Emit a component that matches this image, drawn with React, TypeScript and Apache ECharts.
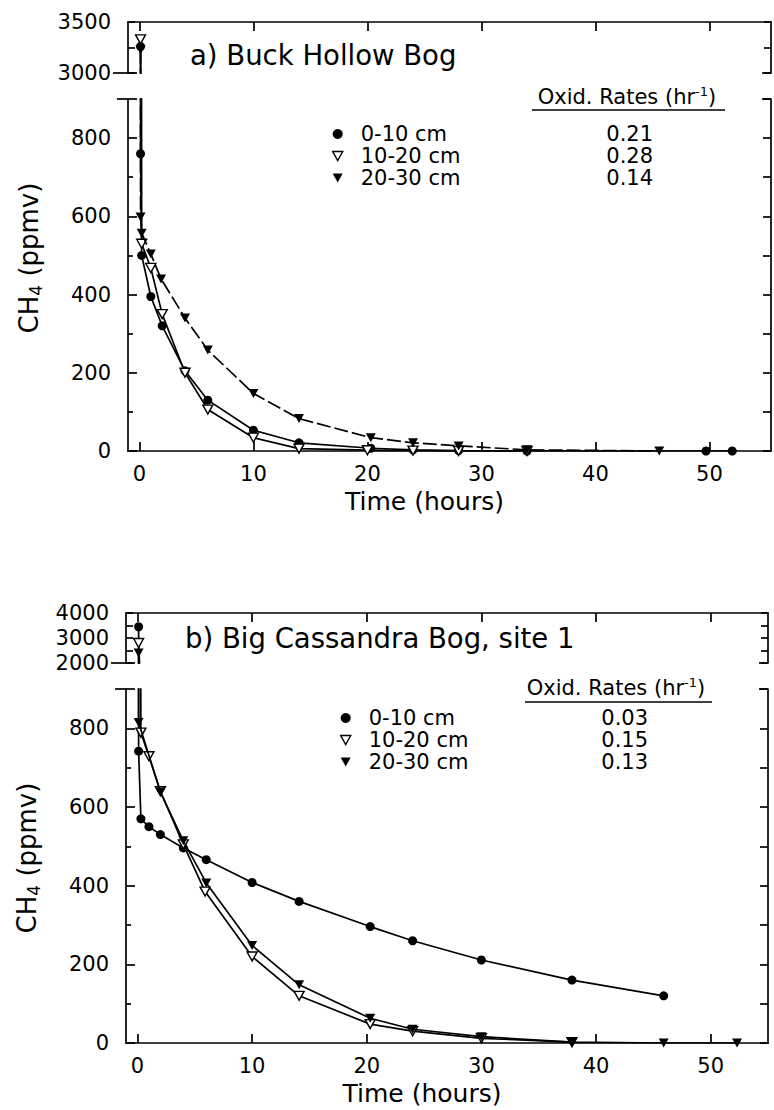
import React, { useEffect, useRef } from "react";
import * as echarts from "echarts";

// ---------- data ----------
const depthNames = ["0-10 cm", "10-20 cm", "20-30 cm"];
const ratesA = ["0.21", "0.28", "0.14"];
const ratesB = ["0.03", "0.15", "0.13"];
const xTickValues = [0, 10, 20, 30, 40, 50];
const yMainLabels = [0, 200, 400, 600, 800];
const yMainMinor = [100, 300, 500, 700];
const yTopLabelsA = [3000, 3500];
const yTopLabelsB = [2000, 3000, 4000];

// a) Buck Hollow Bog
const timeA1 = [0.1, 0.1, 0.2, 1.0, 2.0, 4.0, 6.0, 10.0, 14.0, 20.3, 24.0, 28.0, 34.0, 49.7, 52.0];
const valA1 = [3260, 760, 500, 395, 320, 205, 130, 53, 21, 7, 3, 1, 0, 0, 0];
const timeA2 = [0.1, 0.2, 1.0, 2.0, 4.0, 6.0, 10.0, 14.0, 20.0, 24.0, 28.0, 34.0];
const valA2 = [3330, 530, 468, 350, 200, 106, 34, 6, 2, 1, 0, 0];
const timeA3 = [0.1, 0.1, 0.2, 1.0, 1.9, 4.0, 6.0, 10.0, 14.0, 20.3, 24.0, 28.0, 34.0, 45.6];
const valA3 = [3230, 598, 557, 504, 440, 340, 258, 147, 83, 34, 21, 13, 3, 0];

// b) Big Cassandra Bog, site 1
const timeB1 = [0.1, 0.1, 0.3, 1.0, 2.0, 4.0, 6.0, 10.0, 14.1, 20.3, 24.0, 30.0, 37.9, 45.9];
const valB1 = [3450, 742, 570, 550, 530, 496, 466, 408, 360, 296, 260, 211, 160, 120];
const timeB2 = [0.1, 0.3, 1.0, 2.0, 4.0, 5.9, 10.0, 14.1, 20.3, 24.0, 30.0, 37.9];
const valB2 = [2800, 789, 729, 640, 505, 385, 220, 120, 48, 30, 12, 2];
const timeB3 = [0.1, 0.1, 2.0, 4.0, 6.0, 10.0, 14.1, 20.3, 24.0, 30.0, 37.9, 45.9, 52.3];
const valB3 = [2400, 815, 638, 514, 407, 248, 148, 63, 35, 16, 2, 0, 0];

// ---------- layout ----------
const FONT = "DejaVu Sans";
const BLACK = "#000";
const AX = { color: BLACK, width: 1.7 };
const FS = 21;

const panels = [
  {
    left: 128, right: 3, topTop: 22, topH: 51, mainTop: 99, mainH: 352,
    xMin: -1, xMax: 55.4, topMin: 3000, topMax: 3500, topInt: 250, topLabels: yTopLabelsA,
    title: "a) Buck Hollow Bog", titleX: 190, titleY: 55, nameShift: 34,
    headX: 627, headY: 97, ulX0: 532, ulX1: 725, ulY: 110,
    legendLeft: 332, legendTop: 124, nameW: 239, rates: ratesA,
    series: [[timeA1, valA1], [timeA2, valA2], [timeA3, valA3]],
    dashed: [false, false, true],
  },
  {
    left: 126, right: 6, topTop: 613, topH: 50, mainTop: 689, mainH: 354,
    xMin: -1, xMax: 55, topMin: 2000, topMax: 4000, topInt: 500, topLabels: yTopLabelsB,
    title: "b) Big Cassandra Bog, site 1", titleX: 185, titleY: 638, nameShift: 16,
    headX: 616, headY: 688, ulX0: 525, ulX1: 712, ulY: 702,
    legendLeft: 340, legendTop: 708, nameW: 226, rates: ratesB,
    series: [[timeB1, valB1], [timeB2, valB2], [timeB3, valB3]],
    dashed: [false, false, false],
  },
];

const markerStyles = [
  { symbol: "circle", rotate: 0, size: 9, itemStyle: { color: BLACK } },
  { symbol: "triangle", rotate: 180, size: [10, 9], itemStyle: { color: "#fff", borderColor: BLACK, borderWidth: 1.4 } },
  { symbol: "triangle", rotate: 180, size: [10, 9], itemStyle: { color: BLACK } },
];

const legendIcons = ["circle", "path://M0,0L10,0L5,9Z", "path://M0,0L10,0L5,9Z"];

function pts(times: number[], vals: number[], lo: number, hi: number) {
  return times.map((t, i) => {
    const v = vals[i];
    return v >= lo && v <= hi ? [t, v] : { value: [t, v], symbol: "none" };
  });
}

const plain = (v: number) => String(v);

function buildOption() {
  const grid: any[] = [];
  const xAxis: any[] = [];
  const yAxis: any[] = [];
  const series: any[] = [];
  const legend: any[] = [];
  const graphic: any[] = [];
  const labelStyle = { fontFamily: FONT, fontSize: FS, color: BLACK, formatter: plain };

  panels.forEach((p) => {
    const gTop = grid.length;
    grid.push({ left: p.left, right: p.right, top: p.topTop, height: p.topH, containLabel: false });
    grid.push({ left: p.left, right: p.right, top: p.mainTop, height: p.mainH, containLabel: false });
    const gMain = gTop + 1;

    // x axes
    const xTopIdx = xAxis.length;
    xAxis.push({
      type: "value", gridIndex: gTop, position: "top", min: p.xMin, max: p.xMax,
      axisLine: { show: true, onZero: false, lineStyle: AX },
      axisTick: { show: true, inside: true, length: 9, customValues: xTickValues, lineStyle: AX },
      axisLabel: { show: false }, splitLine: { show: false },
    });
    const xMainIdx = xAxis.length;
    xAxis.push({
      type: "value", gridIndex: gMain, position: "bottom", min: p.xMin, max: p.xMax,
      axisLine: { show: true, onZero: false, lineStyle: AX },
      axisTick: { show: true, inside: true, length: 9, customValues: xTickValues, lineStyle: AX },
      axisLabel: { ...labelStyle, margin: 14, lineHeight: 18, customValues: xTickValues },
      splitLine: { show: false },
      name: "Time (hours)", nameLocation: "middle", nameGap: 38,
      nameTextStyle: { fontFamily: FONT, fontSize: 25, lineHeight: 25, color: BLACK, padding: [0, 50, 0, 0] },
    });

    // y axes top section
    const yTopIdx = yAxis.length;
    yAxis.push({
      type: "value", gridIndex: gTop, position: "left", min: p.topMin, max: p.topMax, interval: p.topInt,
      axisLine: { show: true, onZero: false, lineStyle: AX },
      axisTick: { show: true, inside: true, length: 7, lineStyle: AX },
      axisLabel: { ...labelStyle, margin: 17, customValues: p.topLabels },
      splitLine: { show: false },
    });
    yAxis.push({
      type: "value", gridIndex: gTop, position: "right", min: p.topMin, max: p.topMax, interval: p.topInt,
      axisLine: { show: true, onZero: false, lineStyle: AX },
      axisTick: { show: true, inside: true, length: 7, lineStyle: AX },
      axisLabel: { show: false }, splitLine: { show: false },
    });
    // y axes main section
    const yMainIdx = yAxis.length;
    yAxis.push({
      type: "value", gridIndex: gMain, position: "left", min: 0, max: 900, interval: 100,
      axisLine: { show: true, onZero: false, lineStyle: AX },
      axisTick: { show: true, inside: true, length: 9, customValues: yMainLabels, lineStyle: AX },
      axisLabel: { ...labelStyle, margin: 17, customValues: yMainLabels },
      splitLine: { show: false },
      name: "{a|CH}{s|4}{a| (ppmv)}", nameLocation: "middle", nameRotate: 90, nameGap: 84,
      nameTextStyle: {
        color: BLACK,
        padding: [0, 0, 0, p.nameShift],
        rich: {
          a: { fontFamily: FONT, fontSize: 26, color: BLACK, lineHeight: 30 },
          s: { fontFamily: FONT, fontSize: 17, color: BLACK, lineHeight: 16, verticalAlign: "bottom" },
        },
      },
    });
    yAxis.push({
      type: "value", gridIndex: gMain, position: "left", offset: 0, min: 0, max: 900, interval: 100,
      axisLine: { show: true, onZero: false, lineStyle: { color: "rgba(0,0,0,0)", width: 1 } },
      axisTick: { show: true, inside: true, length: 5, customValues: yMainMinor, lineStyle: AX },
      axisLabel: { show: false }, splitLine: { show: false },
    });
    yAxis.push({
      type: "value", gridIndex: gMain, position: "right", min: 0, max: 900, interval: 100,
      axisLine: { show: true, onZero: false, lineStyle: AX },
      axisTick: { show: true, inside: true, length: 8, lineStyle: AX },
      axisLabel: { show: false }, splitLine: { show: false },
    });

    // series
    p.series.forEach(([times, vals], si) => {
      const m = markerStyles[si];
      const common = {
        type: "line", name: depthNames[si], symbol: m.symbol, symbolRotate: m.rotate,
        symbolSize: m.size, itemStyle: m.itemStyle, showAllSymbol: true,
        lineStyle: { color: BLACK, width: 1.7, type: p.dashed[si] ? [14, 4] : "solid" },
        clip: true, animation: false, emphasis: { disabled: true }, silent: true, z: 3 + si,
      };
      series.push({ ...common, xAxisIndex: xTopIdx, yAxisIndex: yTopIdx, data: pts(times, vals, p.topMin, p.topMax) });
      series.push({ ...common, xAxisIndex: xMainIdx, yAxisIndex: yMainIdx, data: pts(times, vals, 0, 900) });
    });

    // legend with oxidation rates
    legend.push({
      orient: "vertical", left: p.legendLeft, top: p.legendTop - 1, itemWidth: 10, itemHeight: 10, itemGap: 0,
      selectedMode: false, padding: 0,
      data: depthNames.map((n, i) => ({ name: n, icon: legendIcons[i], itemStyle: markerStyles[i].itemStyle })),
      formatter: (name: string) => `{g|}{n|${name}}{r|${p.rates[depthNames.indexOf(name)]}}`,
      textStyle: {
        color: BLACK,
        rich: {
          g: { width: 13, height: 22, lineHeight: 22 },
          n: { fontFamily: FONT, fontSize: FS, color: BLACK, width: p.nameW, height: 22, lineHeight: 22 },
          r: { fontFamily: FONT, fontSize: FS, color: BLACK, width: 60, align: "center", height: 22, lineHeight: 22 },
        },
      },
    });

    // panel title
    graphic.push({
      type: "text", x: p.titleX, y: p.titleY, silent: true,
      style: { text: p.title, fontFamily: FONT, fontSize: 27.5, fill: BLACK, textVerticalAlign: "middle" },
    });
    // table header
    graphic.push({
      type: "text", x: p.headX, y: p.headY, silent: true,
      style: {
        text: "{a|Oxid. Rates (hr}{s|-1}{a|)}", fill: BLACK, align: "center", verticalAlign: "middle",
        rich: {
          a: { fontFamily: FONT, fontSize: FS, fill: BLACK, color: BLACK, lineHeight: 24 },
          s: { fontFamily: FONT, fontSize: 13, fill: BLACK, color: BLACK, lineHeight: 12, verticalAlign: "top" },
        },
      },
    });
    graphic.push({
      type: "line", silent: true,
      shape: { x1: p.ulX0, y1: p.ulY, x2: p.ulX1, y2: p.ulY },
      style: { stroke: BLACK, lineWidth: 1.7 },
    });
    // axis break marks
    const L = p.left;
    const R = 774 - p.right;
    const yb = p.topTop + p.topH;
    const ym = p.mainTop;
    const brk = [
      [L - 15, yb, L + 9, yb], [L - 11, ym, L + 9, ym],
      [R - 9, yb, R, yb], [R - 9, ym, R, ym],
    ];
    brk.forEach(([x1, y1, x2, y2]) =>
      graphic.push({ type: "line", silent: true, shape: { x1, y1, x2, y2 }, style: { stroke: BLACK, lineWidth: 1.7 } })
    );
  });

  return { animation: false, backgroundColor: "#fff", grid, xAxis, yAxis, series, legend, graphic };
}

export default function App() {
  const ref = useRef<HTMLDivElement>(null);
  useEffect(() => {
    document.body.style.margin = "0";
    const chart = echarts.init(ref.current!, null, { renderer: "svg" });
    chart.setOption(buildOption() as any);
    return () => chart.dispose();
  }, []);
  return <div ref={ref} style={{ width: 774, height: 1110 }} />;
}
